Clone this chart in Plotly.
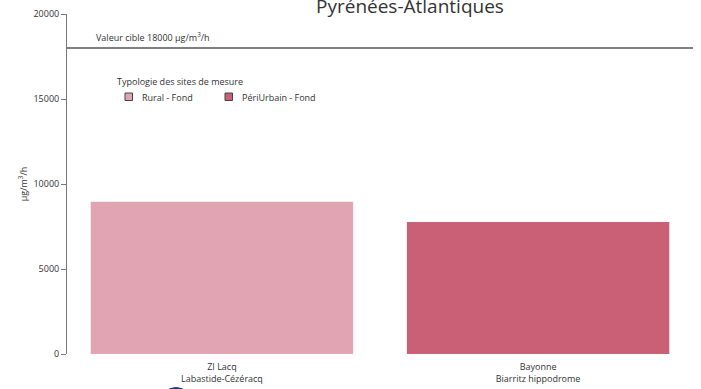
import plotly.graph_objects as go

# Data
sites = ["ZI Lacq<br>Labastide-Cézéracq", "Bayonne<br>Biarritz hippodrome"]
values = [8950, 7760]
typologies = ["Rural - Fond", "PériUrbain - Fond"]
colors = ["#e0a4b2", "#c96076"]
target_value = 18000
title_text = "Pyrénées-Atlantiques"
legend_title = "Typologie des sites de mesure"

W, H = 701, 389
ML, MR, MT, MB = 67, 8, 14, 35
plot_w = W - ML - MR
plot_h = H - MT - MB

def px_x(p):
    return (p - ML) / plot_w

def px_y(p):
    return (H - MB - p) / plot_h

TXT = "#333"

fig = go.Figure()

fig.add_trace(go.Bar(
    x=sites, y=values,
    marker=dict(color=colors, line=dict(width=0)),
    width=0.83,
    showlegend=False,
    hoverinfo="x+y",
))

# target value line
fig.add_shape(type="line", xref="paper", yref="y", x0=0, x1=1,
              y0=target_value, y1=target_value,
              line=dict(color="#555", width=1.5))
fig.add_annotation(xref="paper", yref="y", x=px_x(94), y=target_value,
                   text=f"Valeur cible {target_value} µg/m<sup>3</sup>/h",
                   showarrow=False, xanchor="left", yanchor="bottom", yshift=2,
                   font=dict(size=9, color=TXT))

# title
fig.add_annotation(xref="paper", yref="paper", x=px_x(410), y=1,
                   text=title_text, showarrow=False,
                   xanchor="center", yanchor="bottom", yshift=-7,
                   font=dict(size=19, color=TXT))

# legend of the site typologies
fig.add_annotation(xref="paper", yref="paper", x=px_x(115), y=px_y(82),
                   text=legend_title, showarrow=False,
                   xanchor="left", yanchor="middle",
                   font=dict(size=9, color=TXT))
legend_x = [125, 225]
for lx, name, col in zip(legend_x, typologies, colors):
    fig.add_shape(type="rect", xref="paper", yref="paper",
                  x0=px_x(lx), x1=px_x(lx + 7.5), y0=px_y(100.5), y1=px_y(93),
                  line=dict(color="#444", width=1), fillcolor=col)
    fig.add_annotation(xref="paper", yref="paper", x=px_x(lx + 15), y=px_y(97),
                       text=name, showarrow=False,
                       xanchor="left", yanchor="middle",
                       font=dict(size=9, color=TXT))

# emblem at the bottom edge
fig.add_shape(type="circle", xref="paper", yref="paper",
              x0=px_x(160), x1=px_x(192), y0=px_y(420), y1=px_y(387.5),
              line=dict(color="#1f3c88", width=1), fillcolor="#1f3c88")

fig.update_layout(
    width=W, height=H,
    margin=dict(l=ML, r=MR, t=MT, b=MB),
    paper_bgcolor="white", plot_bgcolor="white",
    font=dict(family="Open Sans", size=9, color=TXT),
    showlegend=False,
    xaxis=dict(
        type="category", range=[-0.49, 1.49], automargin=False,
        showline=False, showgrid=False, zeroline=False,
        ticks="", ticklabelstandoff=6,
        tickfont=dict(size=9, color=TXT),
    ),
    yaxis=dict(
        range=[0, 20000], tickvals=[0, 5000, 10000, 15000, 20000],
        tickformat="d", automargin=False,
        showline=True, linecolor="#777", linewidth=1,
        ticks="outside", ticklen=5, tickcolor="#777",
        showgrid=False, zeroline=False,
        tickfont=dict(size=9, color=TXT),
        title=dict(text="µg/m<sup>3</sup>/h", standoff=4,
                   font=dict(size=9, color=TXT)),
    ),
)

fig.write_html("out.html")
